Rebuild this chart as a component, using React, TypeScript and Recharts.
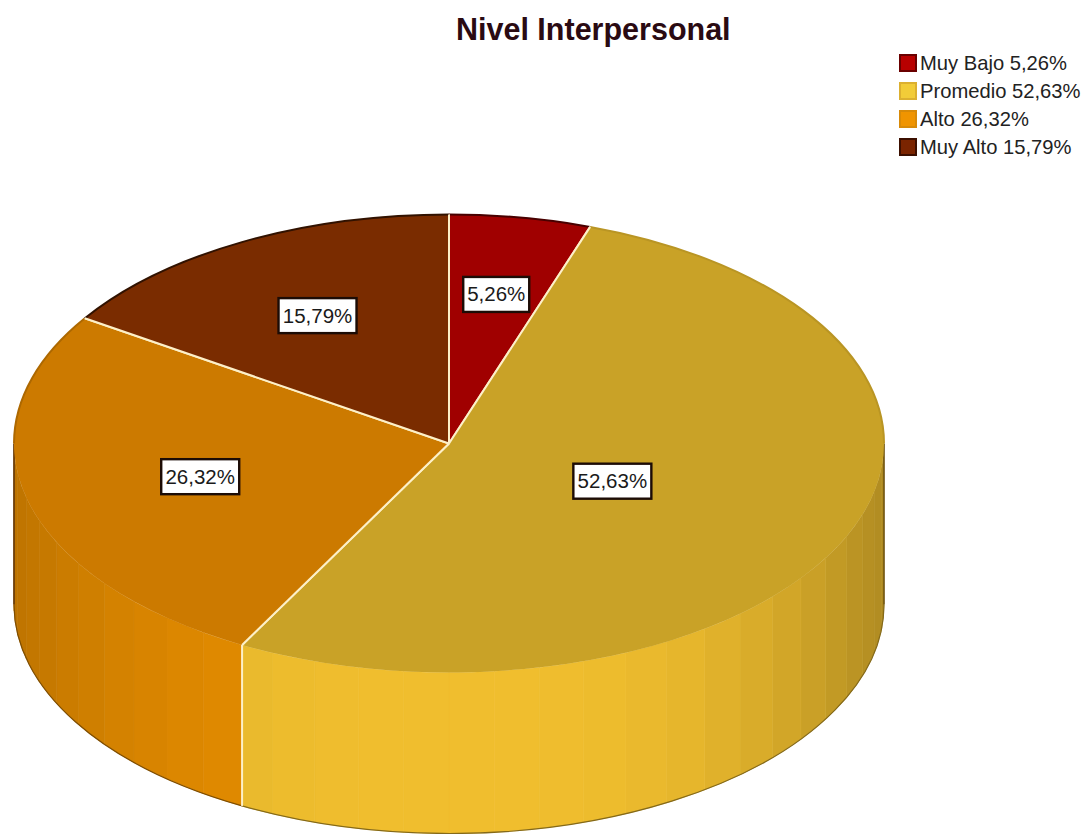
import React from 'react';
import { PieChart, Pie, Legend } from 'recharts';

const categories = ['Muy Bajo', 'Promedio', 'Alto', 'Muy Alto'];
const shares = [5.26, 52.63, 26.32, 15.79];
const topColors = ['#a00000', '#c9a227', '#cc7a00', '#7a2c00'];
const wallColors = ['#a00000', '#f0be2e', '#e58c00', '#7a2c00'];
const wallFalloff = [0.27, 0.27, 0.17, 0.27];
const rimStrength = [0.45, 0.92, 0.85, 0.4];
const swatchEdges = ['#6a0000', '#dcb030', '#d88a08', '#3c0f00'];
const swatchFills = ['#b80000', '#f2cc38', '#f09400', '#7a2400'];
// How far along the radius each value label sits.
const labelReach = [0.66, 0.41, 0.59, 0.635];

const rows = categories.map((name, i) => ({ name, value: shares[i] }));

const CX = 449;
const CY = 443.5;
const RADIUS = 435;
const TILT = 0.5264;
const DEPTH = 161;
const BAND_STEP = 6;
const SEPARATOR = '#fdf0c8';

const fmt = (v: number) => v.toFixed(2).replace('.', ',') + '%';

const pt = (cx: number, cy: number, r: number, deg: number, drop = 0) => {
  const a = (deg * Math.PI) / 180;
  return { x: cx + r * Math.cos(a), y: cy - r * TILT * Math.sin(a) + drop };
};

const shade = (hex: string, f: number) => {
  const n = parseInt(hex.slice(1), 16);
  const ch = (v: number) => Math.round(Math.min(255, v * f));
  return `rgb(${ch((n >> 16) & 255)},${ch((n >> 8) & 255)},${ch(n & 255)})`;
};

// Elliptical wedge for the upper face of the disc.
const TopFace = (props: any) => {
  const { cx, cy, outerRadius: r, startAngle, endAngle, name, payload } = props;
  const idx = categories.indexOf(name ?? payload?.name);
  const p0 = pt(cx, cy, r, startAngle);
  const p1 = pt(cx, cy, r, endAngle);
  const large = startAngle - endAngle > 180 ? 1 : 0;
  const ry = r * TILT;
  const backEnd = Math.max(endAngle, 0);
  const altStart = Math.min(startAngle, -180);
  const rim: string[] = [];
  if (startAngle > backEnd) {
    const b = pt(cx, cy, r, backEnd);
    rim.push(`M${p0.x} ${p0.y}A${r} ${ry} 0 0 1 ${b.x} ${b.y}`);
  }
  if (altStart > endAngle) {
    const a = pt(cx, cy, r, altStart);
    rim.push(`M${a.x} ${a.y}A${r} ${ry} 0 0 1 ${p1.x} ${p1.y}`);
  }
  return (
    <g>
      <path
        d={`M${cx} ${cy}L${p0.x} ${p0.y}A${r} ${ry} 0 ${large} 1 ${p1.x} ${p1.y}Z`}
        fill={topColors[idx]}
      />
      {rim.map((d, i) => (
        <path key={i} d={d} fill="none" stroke={shade(topColors[idx], rimStrength[idx])} strokeWidth={2} />
      ))}
      <line x1={cx} y1={cy} x2={p0.x} y2={p0.y} stroke={SEPARATOR} strokeWidth={2} />
      <line x1={cx} y1={cy} x2={p1.x} y2={p1.y} stroke={SEPARATOR} strokeWidth={2} />
    </g>
  );
};

// Front wall of the disc, painted as narrow vertical bands that darken toward the sides.
const Wall = (props: any) => {
  const { cx, cy, outerRadius: r, startAngle, endAngle, name, payload } = props;
  const idx = categories.indexOf(name ?? payload?.name);
  const from = Math.min(startAngle, 0);
  const to = Math.max(endAngle, -180);
  if (from <= to) return <g />;
  const ry = r * TILT;
  const bands: React.ReactNode[] = [];
  for (let a = from; a > to; a -= BAND_STEP) {
    const b = Math.max(a - BAND_STEP, to);
    const mid = ((a + b) / 2) * (Math.PI / 180);
    const f = 1 - wallFalloff[idx] * Math.pow(Math.abs(Math.cos(mid)), 3);
    const pa = pt(cx, cy, r, a);
    const pb = pt(cx, cy, r, b);
    const qa = pt(cx, cy, r, a, DEPTH);
    const qb = pt(cx, cy, r, b, DEPTH);
    const color = shade(wallColors[idx], f);
    bands.push(
      <path
        key={a}
        d={`M${pa.x} ${pa.y}A${r} ${ry} 0 0 1 ${pb.x} ${pb.y}L${qb.x} ${qb.y}A${r} ${ry} 0 0 0 ${qa.x} ${qa.y}Z`}
        fill={color}
        stroke={color}
        strokeWidth={0.6}
      />
    );
  }
  const q0 = pt(cx, cy, r, from, DEPTH);
  const q1 = pt(cx, cy, r, to, DEPTH);
  const p0 = pt(cx, cy, r, from);
  const p1 = pt(cx, cy, r, to);
  return (
    <g>
      {bands}
      <path
        d={`M${q0.x} ${q0.y}A${r} ${ry} 0 0 1 ${q1.x} ${q1.y}`}
        fill="none"
        stroke={shade(wallColors[idx], 0.55)}
        strokeWidth={1.2}
      />
      {from === 0 && <line x1={p0.x} y1={p0.y} x2={q0.x} y2={q0.y} stroke="#6b5010" strokeWidth={1.5} />}
      {to === -180 && <line x1={p1.x} y1={p1.y} x2={q1.x} y2={q1.y} stroke="#5a3008" strokeWidth={1.5} />}
      {from === startAngle && from < 0 && (
        <line x1={p0.x} y1={p0.y} x2={q0.x} y2={q0.y} stroke={SEPARATOR} strokeWidth={2} />
      )}
    </g>
  );
};

// White value box placed along the slice's middle direction; its width follows the text.
const ValueBox = (props: any) => {
  const { cx, cy, outerRadius: r, midAngle, value, index } = props;
  const c = pt(cx, cy, r * labelReach[index], midAngle);
  const text = fmt(value);
  const w = text.length * 12 + 6;
  const h = 35;
  return (
    <g>
      <rect x={c.x - w / 2} y={c.y - h / 2} width={w} height={h} fill="#fff" stroke="#1c0c06" strokeWidth={2.4} />
      <text
        x={c.x}
        y={c.y + 7}
        textAnchor="middle"
        fontFamily="'Liberation Sans', Arial, sans-serif"
        fontSize={20.5}
        fill="#1a1a1a"
      >
        {text}
      </text>
    </g>
  );
};

const LegendBlock = () => (
  <div style={{ fontFamily: "'Liberation Sans', Arial, sans-serif", fontSize: 20.2, color: '#222' }}>
    {categories.map((name, i) => (
      <div key={name} style={{ display: 'flex', alignItems: 'center', height: 28, whiteSpace: 'nowrap' }}>
        <span
          style={{
            display: 'inline-block',
            boxSizing: 'border-box',
            width: 18,
            height: 18,
            marginRight: 3,
            background: swatchFills[i],
            border: `2px solid ${swatchEdges[i]}`,
          }}
        />
        <span>{`${name} ${fmt(shares[i])}`}</span>
      </div>
    ))}
  </div>
);

export default function App() {
  return (
    <div style={{ position: 'absolute', left: 0, top: 0, width: 1088, height: 834, background: '#fff', overflow: 'hidden' }}>
      <div
        style={{
          position: 'absolute',
          left: 456,
          top: 12,
          fontFamily: "'Liberation Sans', Arial, sans-serif",
          fontWeight: 700,
          fontSize: 30.5,
          color: '#2a0a12',
          whiteSpace: 'nowrap',
        }}
      >
        Nivel Interpersonal
      </div>
      <PieChart width={1088} height={834} margin={{ top: 0, right: 0, bottom: 0, left: 0 }}>
        <Pie
          data={rows}
          dataKey="value"
          nameKey="name"
          cx={CX}
          cy={CY}
          innerRadius={0}
          outerRadius={RADIUS}
          startAngle={90}
          endAngle={-270}
          stroke="none"
          shape={Wall}
          legendType="none"
          isAnimationActive={false}
        />
        <Pie
          data={rows}
          dataKey="value"
          nameKey="name"
          cx={CX}
          cy={CY}
          innerRadius={0}
          outerRadius={RADIUS}
          startAngle={90}
          endAngle={-270}
          stroke="none"
          shape={TopFace}
          label={ValueBox}
          labelLine={false}
          isAnimationActive={false}
        />
        <Legend
          content={LegendBlock}
          wrapperStyle={{ position: 'absolute', left: 899, top: 49, width: 189, bottom: 'auto' }}
        />
      </PieChart>
    </div>
  );
}
